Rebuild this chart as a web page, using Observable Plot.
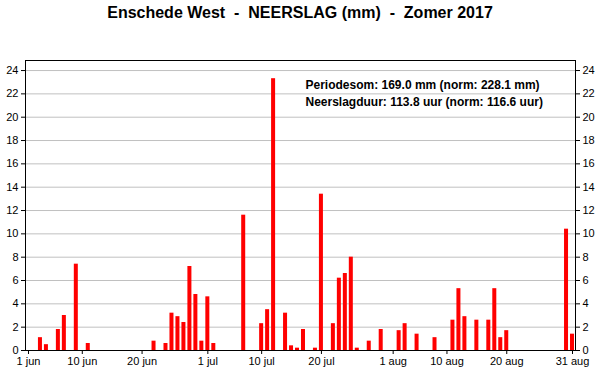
<!DOCTYPE html>
<html>
<head>
<meta charset="utf-8">
<script src="https://cdn.jsdelivr.net/npm/d3@7"></script>
<script src="https://cdn.jsdelivr.net/npm/@observablehq/plot@0.6"></script>
<style>
  body { margin: 0; background: white; font-family: "Liberation Sans", Arial, sans-serif; }
  #title { width: 600px; height: 30px; line-height: 25px; text-align: center; font-weight: bold; font-size: 16px; white-space: pre; color: black; overflow: hidden; }
  #chart svg { display: block; }
</style>
</head>
<body>
<div id="title"></div>
<div id="chart"></div>
<script>
const titleText = "Enschede West  -  NEERSLAG (mm)  -  Zomer 2017";
const rainDays = [
  "2017-06-03","2017-06-04","2017-06-06","2017-06-07","2017-06-09","2017-06-11",
  "2017-06-22","2017-06-24","2017-06-25","2017-06-26","2017-06-27","2017-06-28","2017-06-29","2017-06-30",
  "2017-07-01","2017-07-02","2017-07-07","2017-07-10","2017-07-11","2017-07-12","2017-07-14","2017-07-15",
  "2017-07-16","2017-07-17","2017-07-19","2017-07-20","2017-07-22","2017-07-23","2017-07-24","2017-07-25",
  "2017-07-26","2017-07-28","2017-07-30",
  "2017-08-02","2017-08-03","2017-08-05","2017-08-08","2017-08-11","2017-08-12","2017-08-13","2017-08-15",
  "2017-08-17","2017-08-18","2017-08-19","2017-08-20","2017-08-30","2017-08-31"
];
const rainMm = [
  1.1,0.5,1.8,3.0,7.4,0.6,
  0.8,0.6,3.2,2.9,2.4,7.2,4.8,0.8,
  4.6,0.6,11.6,2.3,3.5,23.3,3.2,0.4,
  0.2,1.8,0.2,13.4,2.3,6.2,6.6,8.0,
  0.2,0.8,1.8,
  1.7,2.3,1.4,1.1,2.6,5.3,2.9,2.6,
  2.6,5.3,1.1,1.7,10.4,1.4
];
const tickDays = ["2017-06-01","2017-06-10","2017-06-20","2017-07-01","2017-07-10","2017-07-20","2017-08-01","2017-08-10","2017-08-20","2017-08-31"];
const tickLabels = ["1 jun","10 jun","20 jun","1 jul","10 jul","20 jul","1 aug","10 aug","20 aug","31 aug"];
const yTicks = [0,2,4,6,8,10,12,14,16,18,20,22,24];
const annotationLines = ["Periodesom: 169.0 mm (norm: 228.1 mm)", "Neerslagduur: 113.8 uur (norm: 116.6 uur)"];

document.getElementById("title").textContent = titleText;

const fmt = d3.utcFormat("%Y-%m-%d");
const allDays = d3.utcDay.range(new Date("2017-06-01T00:00Z"), new Date("2017-09-01T00:00Z")).map(fmt);
const rain = rainDays.map((d, i) => ({day: d, mm: rainMm[i]}));
const labelOf = new Map(tickDays.map((d, i) => [d, tickLabels[i]]));

const chart = Plot.plot({
  width: 600,
  height: 360,
  marginTop: 30,
  marginBottom: 40,
  marginLeft: 25,
  marginRight: 25,
  style: {fontFamily: "'Liberation Sans', Arial, sans-serif", fontSize: "11px", color: "black", background: "white"},
  x: {type: "band", domain: allDays, paddingInner: 0.33, paddingOuter: 0.165, round: false},
  y: {domain: [0, 24.86]},
  marks: [
    Plot.gridY(yTicks, {stroke: "#c0c0c0", strokeOpacity: 1}),
    Plot.barY(rain, {x: "day", y: "mm", fill: "#ff0000"}),
    Plot.frame({stroke: "black"}),
    Plot.axisY(yTicks, {anchor: "left", tickSize: 4, tickPadding: 3, label: null, fontSize: 11}),
    Plot.axisY(yTicks, {anchor: "right", tickSize: 4, tickPadding: 3, label: null, fontSize: 11}),
    Plot.axisX(tickDays, {anchor: "bottom", tickSize: 4, tickPadding: 3, label: null, fontSize: 11, tickFormat: d => labelOf.get(d)}),
    Plot.text([annotationLines.join("\n")], {
      frameAnchor: "top-left", textAnchor: "start", lineAnchor: "top",
      dx: 280, dy: 16, fontSize: 12, fontWeight: "bold", lineHeight: 1.42, fill: "black"
    })
  ]
});
document.getElementById("chart").appendChild(chart);
</script>
</body>
</html>
